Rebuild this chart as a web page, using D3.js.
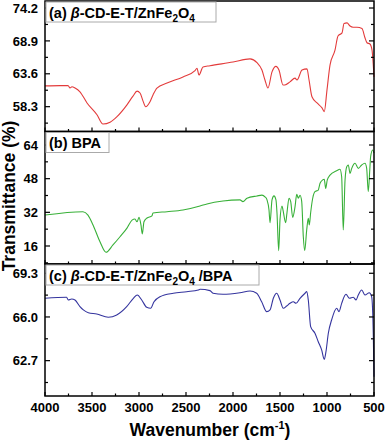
<!DOCTYPE html>
<html>
<head>
<meta charset="utf-8">
<script src="https://cdn.jsdelivr.net/npm/d3@7"></script>
<style>
  body { margin: 0; background: #fff; }
  text { font-family: "Liberation Sans", Arial, sans-serif; font-weight: bold; }
</style>
</head>
<body>
<svg id="chart"></svg>
<script>
// wavenumber (cm-1) / transmittance (%)
const wnA = [4000, 3840, 3755, 3734, 3713, 3680, 3628, 3553, 3447, 3383, 3308, 3234, 3128, 3064, 3021, 2989, 2957, 2929, 2883, 2851, 2809, 2702, 2532, 2404, 2383, 2362, 2319, 2245, 2000, 1819, 1745, 1692, 1660, 1628, 1585, 1543, 1511, 1468, 1447, 1394, 1340, 1319, 1266, 1213, 1191, 1160, 1106, 1053, 1029, 1000, 968, 915, 883, 840, 819, 787, 755, 723, 681, 628, 596, 575, 543, 521, 500]
const tA = [61.65, 61.7, 61.7, 61.3, 61.5, 61.3, 60.7, 58.9, 57.0, 55.5, 55.8, 56.7, 58.6, 60.0, 60.8, 60.5, 59.2, 58.3, 59.1, 60.2, 61.3, 62.1, 63.1, 64.1, 64.5, 63.4, 64.7, 64.9, 65.5, 66.0, 65.4, 64.2, 62.6, 61.3, 63.9, 64.8, 64.2, 61.8, 61.8, 62.3, 62.9, 62.6, 64.2, 64.4, 62.6, 59.9, 58.9, 58.1, 57.5, 61.0, 65.0, 67.4, 69.7, 70.2, 71.7, 71.8, 71.3, 71.1, 71.1, 70.9, 69.4, 68.6, 68.4, 67.4, 63.1]

const wnB = [4000, 3596, 3543, 3489, 3415, 3351, 3277, 3202, 3128, 3074, 3043, 3021, 3000, 2979, 2965, 2947, 2915, 2862, 2851, 2702, 2532, 2351, 2277, 2106, 1926, 1894, 1851, 1745, 1692, 1660, 1638, 1617, 1606, 1585, 1564, 1543, 1532, 1514, 1500, 1479, 1468, 1440, 1426, 1404, 1386, 1365, 1340, 1322, 1305, 1287, 1269, 1252, 1237, 1216, 1199, 1188, 1174, 1152, 1128, 1093, 1074, 1046, 1029, 1014, 997, 968, 897, 862, 844, 827, 808, 790, 773, 755, 737, 702, 667, 631, 596, 578, 561, 543, 536, 514, 500]
const tB = [30.7, 32.3, 30.7, 26.0, 18.0, 13.0, 16.5, 20.4, 24.5, 28.3, 28.8, 27.5, 29.6, 26.0, 21.7, 27.5, 29.3, 30.3, 31.7, 32.3, 33.1, 35.0, 36.0, 37.4, 37.9, 37.1, 38.7, 39.8, 40.2, 39.4, 37.9, 33.1, 27.1, 37.9, 39.8, 37.9, 31.7, 13.8, 28.4, 35.0, 33.1, 27.1, 31.7, 38.7, 37.1, 29.6, 34.7, 40.6, 38.7, 40.1, 37.1, 20.4, 13.8, 23.6, 29.2, 26.0, 31.8, 38.7, 41.8, 42.6, 45.8, 47.4, 47.7, 43.4, 47.4, 49.7, 51.8, 52.5, 48.9, 23.6, 47.4, 53.7, 54.5, 50.5, 52.9, 55.3, 52.9, 54.5, 55.3, 52.9, 41.8, 53.7, 58.4, 61.6, 60.1]

const wnC = [4000, 3770, 3753, 3716, 3681, 3628, 3592, 3539, 3450, 3327, 3237, 3131, 3060, 3018, 2971, 2918, 2876, 2840, 2777, 2635, 2493, 2369, 2351, 2245, 2213, 2106, 1926, 1819, 1748, 1695, 1641, 1606, 1571, 1535, 1500, 1465, 1429, 1394, 1358, 1330, 1287, 1234, 1216, 1199, 1174, 1128, 1093, 1057, 1029, 1011, 986, 951, 897, 872, 844, 798, 762, 720, 691, 667, 631, 596, 550, 525, 507, 500]
const tC = [67.41, 67.49, 67.28, 67.36, 67.28, 66.78, 66.53, 66.32, 66.23, 65.98, 66.15, 66.78, 67.41, 67.66, 67.28, 66.73, 66.66, 67.15, 67.53, 67.79, 67.91, 68.04, 68.09, 67.99, 67.79, 67.71, 67.83, 67.96, 67.79, 67.15, 66.40, 66.53, 67.41, 67.79, 67.28, 66.66, 66.83, 67.03, 67.15, 67.03, 67.41, 67.79, 67.91, 67.28, 65.27, 64.77, 64.13, 63.51, 62.80, 63.38, 64.77, 65.77, 66.66, 66.40, 67.03, 67.71, 67.41, 67.49, 67.28, 67.66, 68.04, 67.66, 67.83, 67.53, 64.51, 61.49]

const xTicks = [4000, 3500, 3000, 2500, 2000, 1500, 1000, 500]
const yTicksA = [58.3, 63.6, 68.9, 74.2]
const yTicksB = [16, 32, 48, 64]
const yTicksC = [62.7, 66.0, 69.3]

const width = 387
const height = 440
const left = 45
const right = 374

const svg = d3.select('#chart')
    .attr('width', width)
    .attr('height', height)

const x = d3.scaleLinear().domain([4000, 500]).range([left, right])

// panel boxes: top, bottom, y domain, ticks, colour, legend
const panels = [
    { top: 1, bottom: 131.5, domain: [54.3, 75.33], ticks: yTicksA, wn: wnA, t: tA, color: '#e33b3b',
      label: [['(a) ', 'n'], ['β', 'i'], ['-CD-E-T/ZnFe', 'n'], ['2', 's'], ['O', 'n'], ['4', 's']], boxW: 170 },
    { top: 131.5, bottom: 264, domain: [7.44, 70.42], ticks: yTicksB, wn: wnB, t: tB, color: '#38b038',
      label: [['(b) BPA', 'n']], boxW: 63 },
    { top: 264, bottom: 396, domain: [60.03, 70.0], ticks: yTicksC, wn: wnC, t: tC, color: '#34349e',
      label: [['(c) ', 'n'], ['β', 'i'], ['-CD-E-T/ZnFe', 'n'], ['2', 's'], ['O', 'n'], ['4', 's'], [' /BPA', 'n']], boxW: 213 }
]

panels.forEach((p, i) => {
    const y = d3.scaleLinear().domain(p.domain).range([p.bottom, p.top])
    const g = svg.append('g')

    // curve
    const pts = p.wn.map((w, j) => [w, p.t[j]])
    g.append('path')
        .datum(pts)
        .attr('fill', 'none')
        .attr('stroke', p.color)
        .attr('stroke-width', 1.1)
        .attr('d', d3.line().x((d) => x(d[0])).y((d) => y(d[1])).curve(d3.curveMonotoneX))

    // y ticks (major + minor), inward on both sides
    const step = p.ticks[1] - p.ticks[0]
    const minors = p.ticks.map((v) => v - step / 2).concat([p.ticks[p.ticks.length - 1] + step / 2])
        .filter((v) => v > p.domain[0] && v < p.domain[1])
    const tickG = g.append('g').attr('stroke', '#000').attr('stroke-width', 1.2)
    p.ticks.forEach((v) => {
        tickG.append('line').attr('x1', left).attr('x2', left + 5).attr('y1', y(v)).attr('y2', y(v))
        tickG.append('line').attr('x1', right).attr('x2', right - 5).attr('y1', y(v)).attr('y2', y(v))
    })
    minors.forEach((v) => {
        tickG.append('line').attr('x1', left).attr('x2', left + 3).attr('y1', y(v)).attr('y2', y(v))
        tickG.append('line').attr('x1', right).attr('x2', right - 3).attr('y1', y(v)).attr('y2', y(v))
    })

    // x ticks on bottom of each panel
    xTicks.forEach((v) => {
        tickG.append('line').attr('x1', x(v)).attr('x2', x(v)).attr('y1', p.bottom).attr('y2', p.bottom - 4)
        if (v > 500) tickG.append('line').attr('x1', x(v - 250)).attr('x2', x(v - 250))
            .attr('y1', p.bottom).attr('y2', p.bottom - 2.5)
    })

    // tick labels
    g.append('g').selectAll('text')
        .data(p.ticks)
        .join('text')
        .attr('x', left - 7)
        .attr('y', (d) => y(d))
        .attr('dy', '0.36em')
        .attr('text-anchor', 'end')
        .attr('font-size', 13)
        .text((d) => (p.ticks === yTicksB ? d : d.toFixed(1)))

    // frame
    g.append('rect')
        .attr('x', left).attr('y', p.top)
        .attr('width', right - left).attr('height', p.bottom - p.top)
        .attr('fill', 'none').attr('stroke', '#000').attr('stroke-width', 1.5)

    // legend box
    g.append('rect')
        .attr('x', left + 1).attr('y', p.top + 1)
        .attr('width', p.boxW).attr('height', 20)
        .attr('fill', '#fff').attr('stroke', '#aaa').attr('stroke-width', 1)
    const lt = g.append('text')
        .attr('x', left + 4).attr('y', p.top + 16.5)
        .attr('font-size', 14.5)
    p.label.forEach(([s, k]) => {
        const ts = lt.append('tspan').text(s)
        if (k === 'i') ts.attr('font-style', 'italic')
        if (k === 's') ts.attr('font-size', 10).attr('dy', 4)
        if (k === 'n' && lt.node().childNodes.length > 1) {
            const prev = lt.node().childNodes[lt.node().childNodes.length - 2]
            if (prev.getAttribute('dy') === '4') ts.attr('dy', -4)
        }
    })
})

// x tick labels
svg.append('g').selectAll('text')
    .data(xTicks)
    .join('text')
    .attr('x', (d) => x(d))
    .attr('y', 412)
    .attr('text-anchor', 'middle')
    .attr('font-size', 13)
    .text((d) => d)

// axis titles
const xt = svg.append('text')
    .attr('x', 210).attr('y', 436)
    .attr('text-anchor', 'middle')
    .attr('font-size', 17.5)
xt.append('tspan').text('Wavenumber (cm')
xt.append('tspan').text('-1').attr('font-size', 11).attr('dy', -7)
xt.append('tspan').text(')').attr('dy', 7)

svg.append('text')
    .attr('transform', 'translate(15,196) rotate(-90)')
    .attr('text-anchor', 'middle')
    .attr('font-size', 17.5)
    .text('Transmittance (%)')
</script>
</body>
</html>
